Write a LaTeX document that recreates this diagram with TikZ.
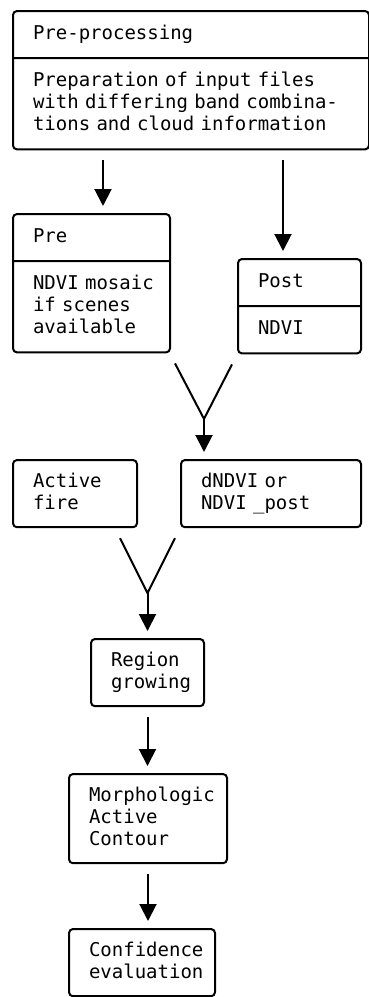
\documentclass[tikz,border=0pt]{standalone}
\usepackage{fontspec}
\setmainfont{DejaVu Sans Mono}
\usetikzlibrary{shapes.multipart, arrows.meta, calc}

\begin{document}
\begin{tikzpicture}[x=0.5pt, y=-0.5pt, box/.style={draw, line width=1pt, rounded corners=2pt,
		anchor=north west, inner xsep=0pt, inner ysep=5.8pt, align=left, font=\fontsize{9.5}{11}\selectfont,
		execute at begin node={\everypar{\hskip10pt}\hskip10pt\strut}, execute at end node={\strut}},
		splt/.style={box, rectangle split, rectangle split parts=2},
		ln/.style={line width=1pt}, arr/.style={ln, -{Triangle[width=8.5pt,length=8.5pt]}, shorten <=5pt, shorten >=3.5pt}]
	\useasboundingbox (0,0) rectangle (369,997);
	\node[splt, text width=178pt] (top) at (12, 10) {Pre-processing \nodepart{two} Preparation of input files\\with differing band combina-\\tions and cloud information};
	\node[splt, text width=78.5pt] (pre) at (12, 213) {Pre \nodepart{two} NDVI mosaic\\if scenes\\available};
	\node[splt, text width=61.5pt] (post) at (237, 258) {Post \nodepart{two} NDVI};
	\node[box, text width=62pt] (fire) at (12, 459) {Active\\fire};
	\node[box, text width=90pt] (dndvi) at (180, 459) {dNDVI or\\NDVI \_post};
	\node[box, text width=56.5pt] (region) at (90, 638) {Region\\growing};
	\node[box, text width=79pt] (morph) at (68, 773) {Morphologic\\Active\\Contour};
	\node[box, text width=73pt] (conf) at (68, 928) {Confidence\\evaluation};
	\coordinate (m1) at ($(pre.south east)!0.5!(post.south west)+(0,65)$);
	\coordinate (m2) at ($(fire.south -| region.north)+(0,65)$);
	\draw[arr] ([xshift=-44pt]top.south) to ([xshift=-44pt]top.south |- pre.north);
	\draw[arr] ([xshift=46pt]top.south) to ([xshift=46pt]top.south |- post.north);
	\draw[ln] ([shift={(4,10)}]pre.south east) -- (m1) -- ([shift={(-5,10)}]post.south west);
	\draw[arr, shorten <=0pt] (m1) to (m1 |- dndvi.north);
	\draw[ln] ([shift={(-18,10)}]fire.south east) -- (m2) -- ([shift={(-5,10)}]dndvi.south west);
	\draw[arr, shorten <=0pt] (m2) to (region.north);
	\draw[arr] (region.south) to (region.south |- morph.north);
	\draw[arr] (morph.south) to (morph.south |- conf.north);
\end{tikzpicture}
\end{document}
